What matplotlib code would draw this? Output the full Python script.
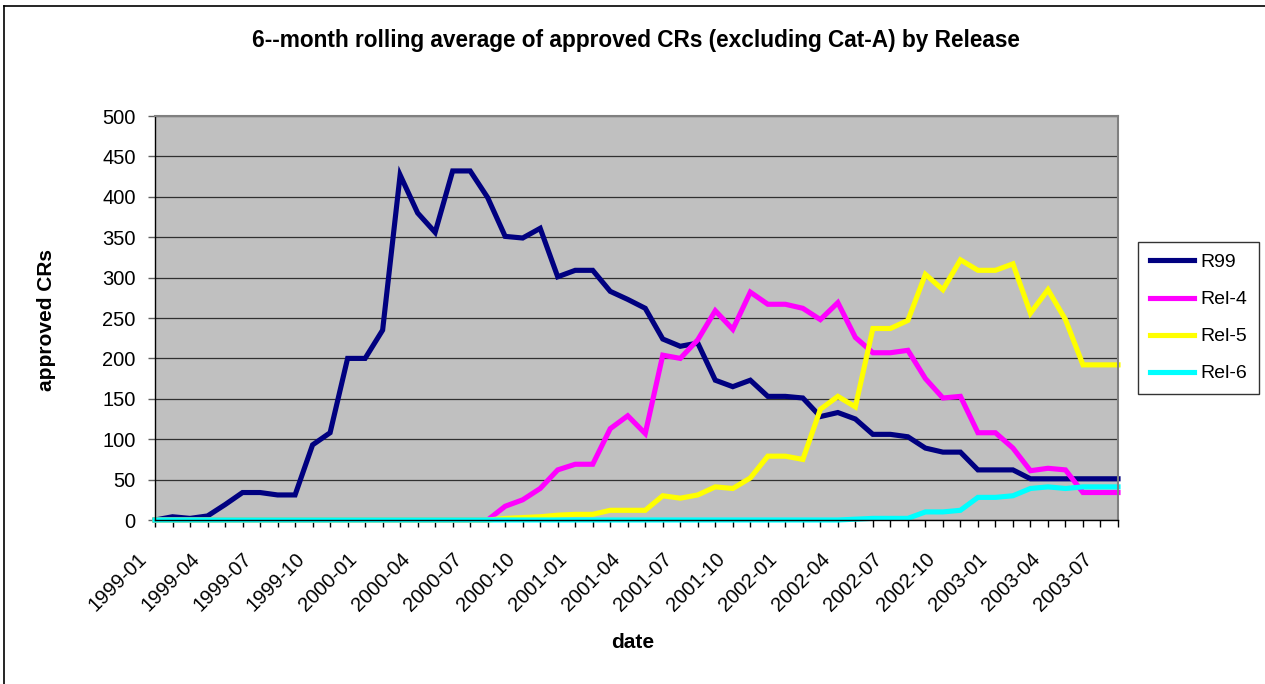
import matplotlib
matplotlib.use("Agg")
import matplotlib.pyplot as plt
from matplotlib.lines import Line2D
from matplotlib.transforms import ScaledTranslation

plt.rcParams['font.family'] = ['Liberation Sans', 'DejaVu Sans']

# monthly data, 1999-01 .. 2003-08
months = [f"{1999 + i // 12}-{i % 12 + 1:02d}" for i in range(56)]

r99 = [0, 4, 2, 5, 19, 34, 34, 31, 31, 93, 108, 200, 200, 235, 427, 380, 356, 432, 432, 399,
       351, 349, 361, 301, 309, 309, 283, 273, 262, 224, 215, 219, 173, 165, 173, 153, 153, 151,
       128, 133, 125, 106, 106, 103, 89, 84, 84, 62, 62, 62, 51, 51, 51, 51, 51, 51]
rel4 = [0] * 20 + [17, 25, 39, 62, 69, 69, 113, 129, 107, 204, 200, 223, 259, 236, 282, 267,
                   267, 262, 248, 269, 226, 207, 207, 210, 175, 151, 153, 108, 108, 89, 61, 64,
                   62, 34, 34, 34]
rel5 = [0] * 20 + [2, 3, 4, 6, 7, 7, 12, 12, 12, 30, 27, 31, 41, 39, 52, 79, 79, 75, 137, 153,
                   140, 237, 237, 247, 304, 285, 322, 309, 309, 317, 256, 285, 248, 192, 192, 192]
rel6 = [0] * 40 + [1, 2, 2, 2, 10, 10, 12, 28, 28, 30, 39, 41, 39, 41, 41, 41]

series = [("R99", r99, "#000080"), ("Rel-4", rel4, "#FF00FF"),
          ("Rel-5", rel5, "#FFFF00"), ("Rel-6", rel6, "#00FFFF")]

fig = plt.figure(figsize=(12.65, 6.84), dpi=100)
ax = fig.add_axes([155 / 1265, 1 - 520 / 684, (1118 - 155) / 1265, (520 - 116) / 684])
ax.set_facecolor("#C0C0C0")

x = list(range(len(months)))
for name, vals, col in series:
    ax.plot(x, vals, color=col, linewidth=3.7, label=name, clip_on=False,
            solid_joinstyle='miter')

ax.set_xlim(0, len(months) - 1)
ax.set_ylim(0, 500)
ax.set_yticks(range(0, 501, 50))
ax.yaxis.grid(True, color="#303030", linewidth=0.9)
ax.set_axisbelow(True)

ax.set_xticks(x[::3])
ax.set_xticks(x, minor=True)
ax.set_xticklabels(months[::3], rotation=45, ha='right', va='center',
                   rotation_mode='anchor', fontsize=14.5)
ax.tick_params(axis='x', which='both', length=5, width=1, color='black', pad=21)
ax.tick_params(axis='y', length=5, width=1, color='#606060', labelsize=14.5, pad=9)

for s in ['top', 'right']:
    ax.spines[s].set_color('#808080')
    ax.spines[s].set_linewidth(1.5)
for s in ['left', 'bottom']:
    ax.spines[s].set_color('black')
    ax.spines[s].set_linewidth(1)

shift = ScaledTranslation(-11 / 100, 0, fig.dpi_scale_trans)
for lab in ax.get_xticklabels():
    lab.set_transform(lab.get_transform() + shift)

fig.text(0.503, 1 - 40 / 684, "6--month rolling average of approved CRs (excluding Cat-A) by Release",
         ha='center', va='center', fontsize=16.3, fontweight='bold')
fig.text(47 / 1265, 1 - 320 / 684, "approved CRs", rotation=90, ha='center', va='center',
         fontsize=15, fontweight='bold')
fig.text(633 / 1265, 1 - 642 / 684, "date", ha='center', va='center',
         fontsize=15, fontweight='bold')

leg = ax.legend(loc='upper left', bbox_to_anchor=(1138 / 1265, 1 - 242 / 684),
                bbox_transform=fig.transFigure, borderaxespad=0, frameon=True,
                fancybox=False, fontsize=14, handlelength=2.3, handletextpad=0.3,
                labelspacing=1.0, borderpad=0.6)
leg.get_frame().set_edgecolor('black')
leg.get_frame().set_linewidth(1)

# outer chart border (only top and left edges visible)
fig.add_artist(Line2D([4 / 1265, 4 / 1265], [0, 1 - 6 / 684], transform=fig.transFigure,
                      color='black', linewidth=1.2))
fig.add_artist(Line2D([4 / 1265, 1], [1 - 6 / 684, 1 - 6 / 684], transform=fig.transFigure,
                      color='black', linewidth=1.2))

plt.savefig("out.png", dpi=100)
